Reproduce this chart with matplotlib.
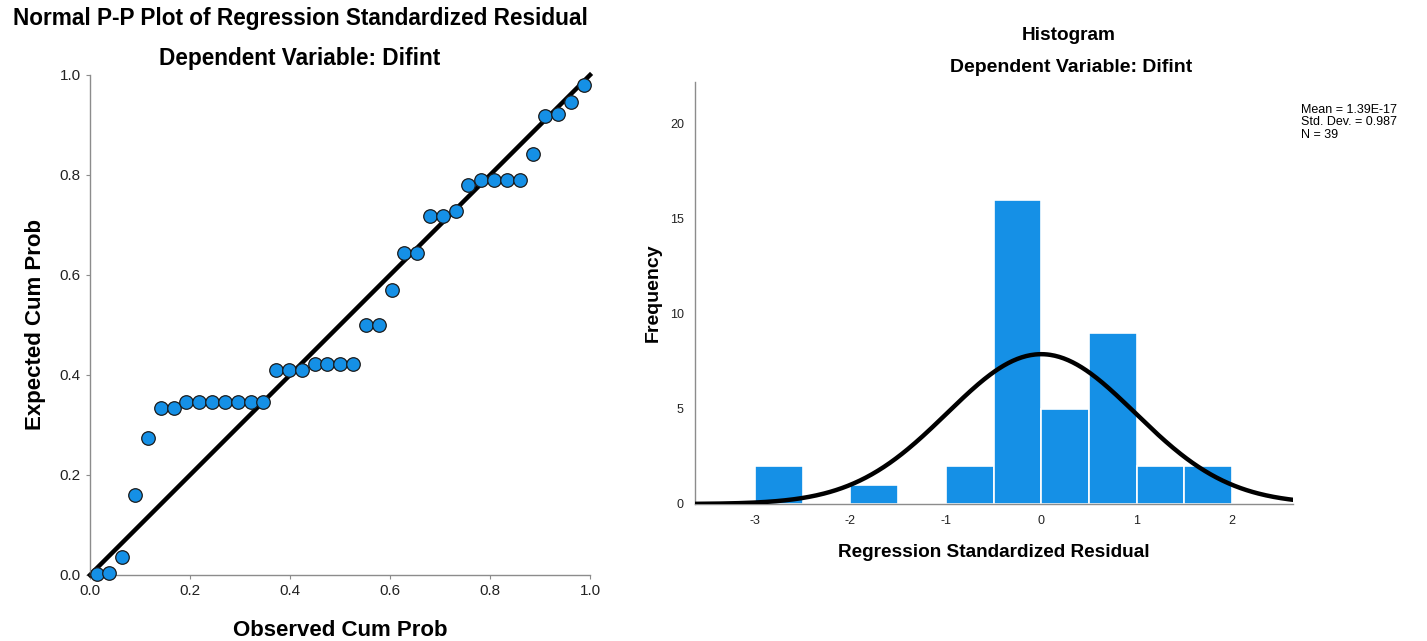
import numpy as np
import matplotlib
matplotlib.use("Agg")
import matplotlib.pyplot as plt

# ---------------- data ----------------
observed_cum_prob = [0.013, 0.038, 0.064, 0.090, 0.115, 0.141, 0.167, 0.192, 0.218, 0.244,
                     0.269, 0.295, 0.321, 0.346, 0.372, 0.397, 0.423, 0.449, 0.474, 0.500,
                     0.526, 0.551, 0.577, 0.603, 0.628, 0.654, 0.679, 0.705, 0.731, 0.756,
                     0.782, 0.808, 0.833, 0.859, 0.885, 0.910, 0.936, 0.962, 0.987]
expected_cum_prob = [0.003, 0.005, 0.037, 0.160, 0.275, 0.335, 0.335, 0.347, 0.347, 0.347,
                     0.347, 0.347, 0.347, 0.347, 0.410, 0.410, 0.410, 0.422, 0.422, 0.422,
                     0.422, 0.501, 0.501, 0.570, 0.645, 0.645, 0.718, 0.718, 0.728, 0.781,
                     0.791, 0.791, 0.791, 0.791, 0.843, 0.918, 0.922, 0.947, 0.980]

bin_edges = [-3.0, -2.5, -2.0, -1.5, -1.0, -0.5, 0.0, 0.5, 1.0, 1.5, 2.0]
bin_counts = [2, 0, 1, 0, 2, 16, 5, 9, 2, 2]
resid_mean = 1.39e-17
resid_std = 0.987
resid_n = 39

pp_ticks = [0.0, 0.2, 0.4, 0.6, 0.8, 1.0]
hist_xticks = [-3, -2, -1, 0, 1, 2]
hist_yticks = [0, 5, 10, 15, 20]

# ---------------- fonts ----------------
plt.rcParams['font.family'] = ['Liberation Sans', 'DejaVu Sans']
plt.rcParams['axes.unicode_minus'] = False

BLUE = '#1590e6'
SPINE = '#8c8c8c'

fig = plt.figure(figsize=(14.27, 6.41), dpi=100)

# ---------------- P-P plot ----------------
ax1 = fig.add_axes([90/1427, 1-575/641, 500/1427, 500/641])
ax1.plot([0, 1], [0, 1], color='black', lw=3.2, clip_on=False, zorder=2)
ax1.scatter(observed_cum_prob, expected_cum_prob, s=95, facecolor=BLUE,
            edgecolor='#1a1a1a', linewidth=0.9, zorder=3, clip_on=False)
ax1.set_xlim(0, 1)
ax1.set_ylim(0, 1)
ax1.set_xticks(pp_ticks)
ax1.set_yticks(pp_ticks)
ax1.set_xticklabels([f'{t:.1f}' for t in pp_ticks])
ax1.set_yticklabels([f'{t:.1f}' for t in pp_ticks])
for s in ['top', 'right']:
    ax1.spines[s].set_visible(False)
for s in ['left', 'bottom']:
    ax1.spines[s].set_color(SPINE)
    ax1.spines[s].set_linewidth(1.0)
ax1.tick_params(axis='both', length=3, color=SPINE, labelsize=11, labelcolor='#222222')
ax1.set_xlabel('Observed Cum Prob', fontsize=16, fontweight='bold', labelpad=16)
ax1.set_ylabel('Expected Cum Prob', fontsize=16, fontweight='bold', labelpad=10)
fig.text(300/1427, 1-18/641, 'Normal P-P Plot of Regression Standardized Residual',
         ha='center', va='center', fontsize=16.3, fontweight='bold')
fig.text(300/1427, 1-58/641, 'Dependent Variable: Difint',
         ha='center', va='center', fontsize=16.3, fontweight='bold')

# ---------------- Histogram ----------------
ax2 = fig.add_axes([695/1427, 1-504/641, 598/1427, 422/641])
widths = np.diff(bin_edges)
ax2.bar(bin_edges[:-1], bin_counts, width=widths, align='edge', color=BLUE,
        edgecolor='white', linewidth=1.2, zorder=2)
xs = np.linspace(-3.63, 2.64, 400)
bw = widths[0]
curve = resid_n * bw / (resid_std * np.sqrt(2 * np.pi)) * np.exp(-0.5 * ((xs - resid_mean) / resid_std) ** 2)
ax2.plot(xs, curve, color='black', lw=3.2, zorder=3)
ax2.set_xlim(-3.63, 2.64)
ax2.set_ylim(0, 22.2)
ax2.set_xticks(hist_xticks)
ax2.set_yticks(hist_yticks)
for s in ['top', 'right']:
    ax2.spines[s].set_visible(False)
for s in ['left', 'bottom']:
    ax2.spines[s].set_color(SPINE)
    ax2.spines[s].set_linewidth(1.0)
ax2.tick_params(axis='both', length=0, pad=8, labelsize=9, labelcolor='#222222')
ax2.set_xlabel('Regression Standardized Residual', fontsize=13.7, fontweight='bold', labelpad=12)
ax2.set_ylabel('Frequency', fontsize=14, fontweight='bold', labelpad=6)
fig.text(1069/1427, 1-35/641, 'Histogram', ha='center', va='center',
         fontsize=13.7, fontweight='bold')
fig.text(1071/1427, 1-68/641, 'Dependent Variable: Difint', ha='center', va='center',
         fontsize=14, fontweight='bold')
fig.text(1301/1427, 1-104/641,
         f'Mean = 1.39E-17\nStd. Dev. = {resid_std}\nN = {resid_n}',
         ha='left', va='top', fontsize=9, linespacing=1.05)

fig.savefig('out.png', dpi=100)
